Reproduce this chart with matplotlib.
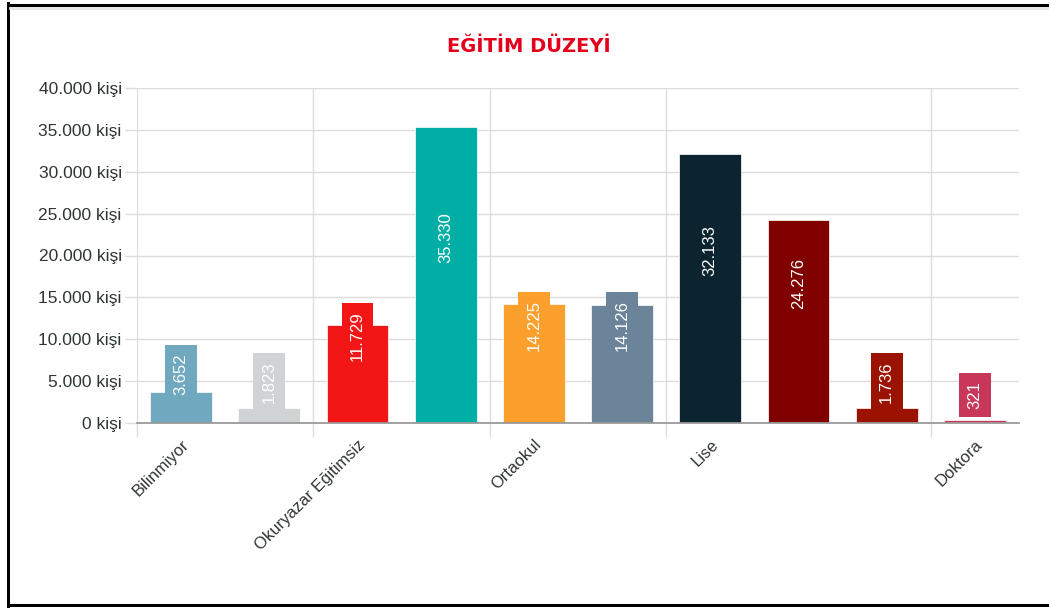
import matplotlib
matplotlib.use("Agg")
import matplotlib.pyplot as plt
from matplotlib.lines import Line2D
from matplotlib.ticker import FixedLocator, FuncFormatter

# Education level counts
categories = ["Bilinmiyor", "Okuryazar Değil", "Okuryazar Eğitimsiz", "İlkokul",
              "Ortaokul", "İlköğretim", "Lise", "Lisans", "Yüksek Lisans", "Doktora"]
values = [3652, 1823, 11729, 35330, 14225, 14126, 32133, 24276, 1736, 321]
colors = ["#6fa8bf", "#cfd3d3", "#f21616", "#00aea6", "#fba02d",
          "#6b8499", "#0b2430", "#800000", "#9b1300", "#c8375a"]
shown_labels = [0, 2, 4, 6, 9]
y_ticks = [0, 5000, 10000, 15000, 20000, 25000, 30000, 35000, 40000]


def tr_number(v):
    return f"{v:,}".replace(",", ".")


W, H = 1049, 608
fig = plt.figure(figsize=(W / 100, H / 100), dpi=100)
plt.rcParams["font.family"] = ["Liberation Sans", "DejaVu Sans"]

ax = fig.add_axes([137 / W, (H - 423) / H, (1019 - 137) / W, (423 - 88) / H])
x = list(range(len(categories)))
ax.bar(x, values, width=0.7, color=colors, edgecolor="white", linewidth=0.5, zorder=2)
ax.set_xlim(-0.5, len(categories) - 0.5)
ax.set_ylim(0, 40000)

# value labels, rotated, on a box of the bar colour
for i, v in enumerate(values):
    ax.annotate(tr_number(v), xy=(i, v / 2), xytext=(0, 9), textcoords="offset points",
                rotation=90, ha="center", va="bottom", color="white", fontsize=12,
                bbox=dict(boxstyle="square,pad=0.5", fc=colors[i], ec="none"), zorder=3)

# y axis
ax.yaxis.set_major_locator(FixedLocator(y_ticks))
ax.yaxis.set_major_formatter(FuncFormatter(lambda v, p: tr_number(int(v)) + " kişi"))
ax.tick_params(axis="y", length=9, width=1, color="#dcdcdc", pad=2,
               labelsize=12.5, labelcolor="#2f3535")
ax.grid(axis="y", color="#dcdcdc", linewidth=1, zorder=0)

# x axis: labels on some categories, grid lines on category edges
ax.xaxis.set_major_locator(FixedLocator(shown_labels))
ax.set_xticklabels([categories[i] for i in shown_labels], rotation=45, ha="right",
                   rotation_mode="anchor", fontsize=12, color="#2f3535")
ax.tick_params(axis="x", which="major", length=0, pad=10)
ax.xaxis.set_minor_locator(FixedLocator([i - 0.5 for i in shown_labels]))
ax.tick_params(axis="x", which="minor", length=10, width=1, color="#dcdcdc")
ax.grid(axis="x", which="minor", color="#dcdcdc", linewidth=1, zorder=0)
ax.set_axisbelow(True)

for s in ["top", "right", "left"]:
    ax.spines[s].set_visible(False)
ax.spines["bottom"].set_color("#9a9a9a")
ax.spines["bottom"].set_linewidth(1.3)
ax.spines["bottom"].set_zorder(4)

fig.text(529 / W, 1 - 47 / H, "EĞİTİM DÜZEYİ", ha="center", va="center",
         fontsize=14, fontweight="bold", color="#e3001b", family="DejaVu Sans")

# black frame
lw = 3 * 0.72
fig.add_artist(Line2D([8 / W, 8 / W], [0, 1 - 3 / H], transform=fig.transFigure,
                      color="black", linewidth=lw))
fig.add_artist(Line2D([8 / W, 1], [1 - 4.5 / H, 1 - 4.5 / H], transform=fig.transFigure,
                      color="black", linewidth=lw))
fig.add_artist(Line2D([8 / W, 1], [3 / H, 3 / H], transform=fig.transFigure,
                      color="black", linewidth=lw))
fig.add_artist(Line2D([10 / W, 1], [1 - 8 / H, 1 - 8 / H], transform=fig.transFigure,
                      color="#e6e6e6", linewidth=2))

fig.savefig("out.png", dpi=100)
